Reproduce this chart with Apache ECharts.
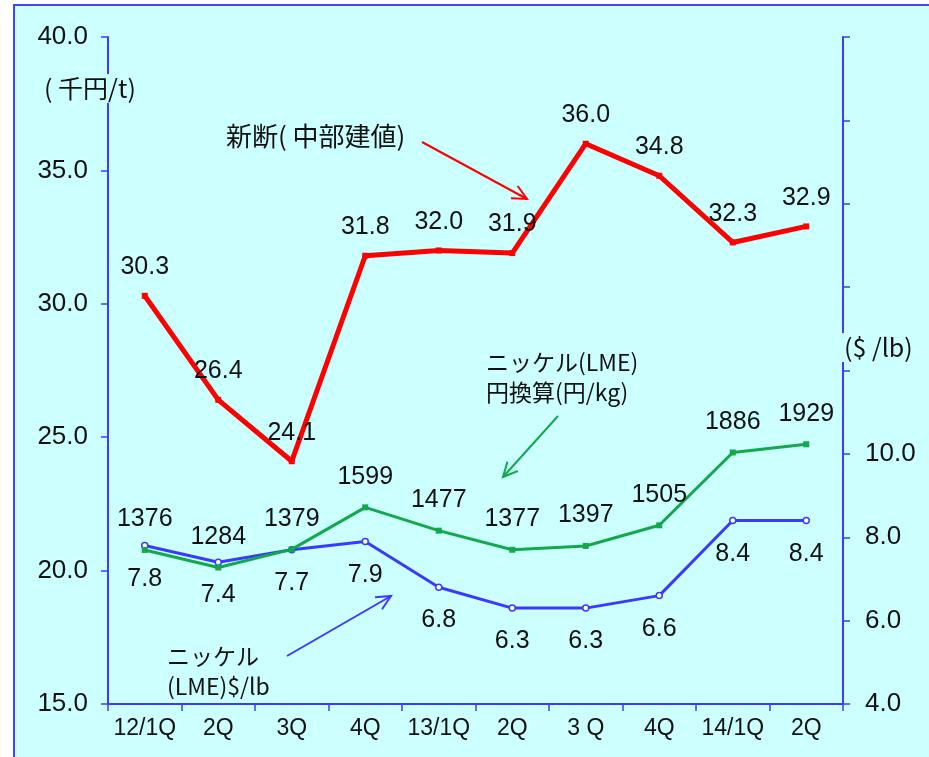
<!DOCTYPE html>
<html>
<head>
<meta charset="utf-8">
<script src="https://cdn.jsdelivr.net/npm/echarts@6/dist/echarts.min.js"></script>
<style>
  html, body { margin: 0; padding: 0; background: #ffffff; }
  #chart { width: 929px; height: 757px; }
</style>
</head>
<body>
<div id="chart"></div>
<script>
// Quarterly categories
const categories = ['12/1Q', '2Q', '3Q', '4Q', '13/1Q', '2Q', '3 Q', '4Q', '14/1Q', '2Q'];
// 新断(中部建値) 千円/t
const scrapPrice = [30.3, 26.4, 24.1, 31.8, 32.0, 31.9, 36.0, 34.8, 32.3, 32.9];
// ニッケル(LME) 円換算 円/kg
const nickelYen = [1376, 1284, 1379, 1599, 1477, 1377, 1397, 1505, 1886, 1929];
// ニッケル(LME) $/lb
const nickelUsd = [7.8, 7.4, 7.7, 7.9, 6.8, 6.3, 6.3, 6.6, 8.4, 8.4];

const leftTicks = { min: 15, max: 40, step: 5 };
const rightTicks = { min: 4, max: 20, step: 2, labelMax: 10 };

const AXIS_BLUE = '#3c3cff';
const RED = '#ff0000';
const GREEN = '#12a84c';
const BLUE = '#3a3aff';
const BG = '#ccffff';
const NUM_FONT = '"Liberation Sans", Arial, sans-serif';
const JP_FONT = '"Noto Sans CJK JP", "Noto Sans", sans-serif';

const chart = echarts.init(document.getElementById('chart'), null, { renderer: 'canvas' });

function arrow(x1, y1, x2, y2, color, width) {
  const ang = Math.atan2(y2 - y1, x2 - x1);
  const len = 16, spread = 0.45;
  const a1 = [x2 - len * Math.cos(ang - spread), y2 - len * Math.sin(ang - spread)];
  const a2 = [x2 - len * Math.cos(ang + spread), y2 - len * Math.sin(ang + spread)];
  return [
    { type: 'line', z: 20, shape: { x1, y1, x2, y2 }, style: { stroke: color, lineWidth: width } },
    { type: 'polyline', z: 20, shape: { points: [a1, [x2, y2], a2] }, style: { stroke: color, lineWidth: width, fill: null } }
  ];
}

function labelText(left, top, text, size) {
  return {
    type: 'text', z: 20, left, top,
    style: { text, font: size + 'px ' + JP_FONT, fill: '#111', lineHeight: 30 }
  };
}

const option = {
  backgroundColor: '#ffffff',
  animation: false,
  grid: { left: 108, right: 86, top: 37, bottom: 53, containLabel: false },
  xAxis: {
    type: 'category',
    data: categories,
    boundaryGap: true,
    axisLine: { lineStyle: { color: AXIS_BLUE, width: 2 } },
    axisTick: { show: true, inside: false, length: 7, lineStyle: { color: AXIS_BLUE, width: 1.5 } },
    axisLabel: { interval: 0, color: '#111', fontSize: 23, fontFamily: NUM_FONT, margin: 13 },
    splitLine: { show: false }
  },
  yAxis: [
    {
      type: 'value', position: 'left',
      min: leftTicks.min, max: leftTicks.max, interval: leftTicks.step,
      axisLine: { show: true, lineStyle: { color: AXIS_BLUE, width: 2 } },
      axisTick: { show: true, inside: false, length: 7, lineStyle: { color: AXIS_BLUE, width: 1.5 } },
      axisLabel: { color: '#111', fontSize: 26, fontFamily: NUM_FONT, margin: 20,
        formatter: v => v.toFixed(1) },
      splitLine: { show: false }
    },
    {
      type: 'value', position: 'right',
      min: rightTicks.min, max: rightTicks.max, interval: rightTicks.step,
      axisLine: { show: true, lineStyle: { color: AXIS_BLUE, width: 2 } },
      axisTick: { show: true, inside: false, length: 7, lineStyle: { color: AXIS_BLUE, width: 1.5 } },
      axisLabel: { color: '#111', fontSize: 26, fontFamily: NUM_FONT, margin: 22,
        formatter: v => (v <= rightTicks.labelMax ? v.toFixed(1) : '') },
      splitLine: { show: false }
    },
    {
      type: 'value', show: false, min: 570, max: 4060,
      splitLine: { show: false }
    }
  ],
  series: [
    {
      name: '新断(中部建値)', type: 'line', yAxisIndex: 0, data: scrapPrice,
      symbol: 'rect', symbolSize: 6,
      lineStyle: { color: RED, width: 5 }, itemStyle: { color: RED },
      label: { show: true, position: 'top', distance: 13, color: '#111', fontSize: 25,
        fontFamily: NUM_FONT, formatter: p => p.value.toFixed(1) },
      z: 5
    },
    {
      name: 'ニッケル(LME)円換算', type: 'line', yAxisIndex: 2, data: nickelYen,
      symbol: 'rect', symbolSize: 6,
      lineStyle: { color: GREEN, width: 3 }, itemStyle: { color: GREEN },
      label: { show: true, position: 'top', distance: 15, color: '#111', fontSize: 25,
        fontFamily: NUM_FONT },
      z: 4
    },
    {
      name: 'ニッケル(LME)$/lb', type: 'line', yAxisIndex: 1, data: nickelUsd,
      symbol: 'circle', symbolSize: 6,
      lineStyle: { color: BLUE, width: 3 },
      itemStyle: { color: '#ffffff', borderColor: BLUE, borderWidth: 1.5 },
      label: { show: true, position: 'bottom', distance: 17, color: '#111', fontSize: 25,
        fontFamily: NUM_FONT, formatter: p => p.value.toFixed(1) },
      z: 3
    }
  ],
  graphic: [
    // panel background and frame
    { type: 'rect', z: -10, silent: true, shape: { x: 14, y: 5, width: 940, height: 780 },
      style: { fill: BG, stroke: '#4444ff', lineWidth: 2 } },
    // unit labels (boxes hide the axis line behind them)
    { type: 'text', z: 30, left: 40, top: 74,
      style: { text: '( 千円/t)', font: '25px ' + JP_FONT, fill: '#111',
        backgroundColor: BG, padding: [2, 4] } },
    { type: 'text', z: 30, left: 840, top: 333,
      style: { text: '($ /lb)', font: '25px ' + JP_FONT, fill: '#111',
        backgroundColor: BG, padding: [2, 4] } },
    labelText(226, 121, '新断( 中部建値)', 26),
    labelText(486, 347, 'ニッケル(LME)\n円換算(円/kg)', 23),
    labelText(167, 641, 'ニッケル\n(LME)$/lb', 23),
    ...arrow(422, 142, 527, 199, RED, 2),
    ...arrow(558, 416, 503, 477, GREEN, 2),
    ...arrow(287, 656, 391, 596, BLUE, 2)
  ]
};

chart.setOption(option);
</script>
</body>
</html>
